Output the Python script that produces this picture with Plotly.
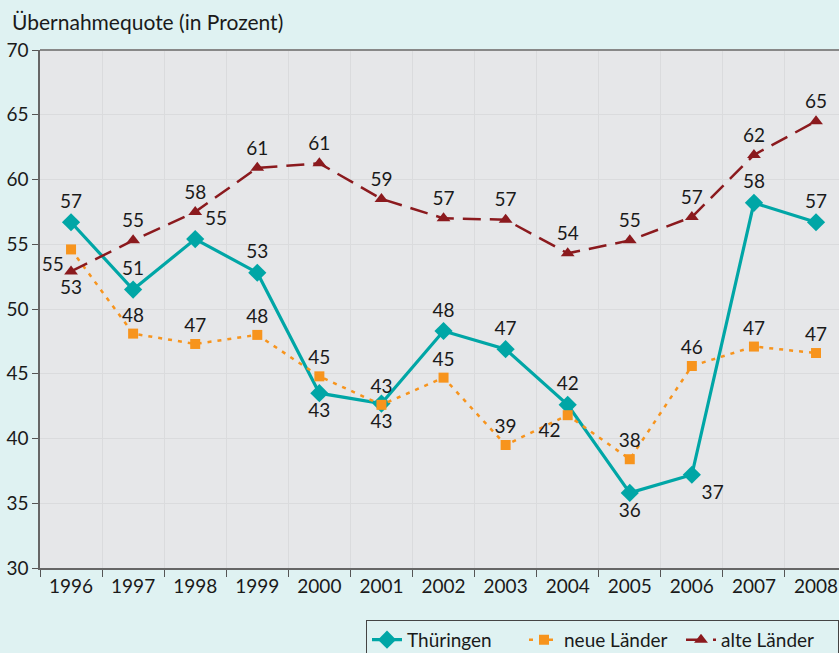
import plotly.graph_objects as go

years = ["1996", "1997", "1998", "1999", "2000", "2001", "2002",
         "2003", "2004", "2005", "2006", "2007", "2008"]

thueringen = [56.7, 51.5, 55.4, 52.8, 43.5, 42.7, 48.3, 46.9, 42.6, 35.8, 37.2, 58.2, 56.7]
thueringen_labels = ["57", "51", "55", "53", "43", "43", "48", "47", "42", "36", "37", "58", "57"]
thueringen_pos = ["top center", "top center", "top right", "top center", "bottom center",
                  "bottom center", "top center", "top center", "top center", "bottom center",
                  "bottom right", "top center", "top center"]

neue = [54.6, 48.1, 47.3, 48.0, 44.8, 42.6, 44.7, 39.5, 41.8, 38.4, 45.6, 47.1, 46.6]
neue_labels = ["55", "48", "47", "48", "45", "43", "45", "39", "42", "38", "46", "47", "47"]
neue_pos = ["bottom left", "top center", "top center", "top center", "top center",
            "top center", "top center", "top center", "bottom left", "top center",
            "top center", "top center", "top center"]

alte = [52.9, 55.3, 57.5, 60.9, 61.25, 58.5, 57.0, 56.9, 54.3, 55.3, 57.1, 61.9, 64.5]
alte_labels = ["53", "55", "58", "61", "61", "59", "57", "57", "54", "55", "57", "62", "65"]
alte_pos = ["bottom center"] + ["top center"] * 12

y_ticks = [30, 35, 40, 45, 50, 55, 60, 65, 70]

FONT = "Lato, 'Noto Sans', sans-serif"
TEXT_COL = "#1a1a1a"
LBL = 19

fig = go.Figure()

fig.add_trace(go.Scatter(
    x=years, y=thueringen, name="Thüringen", mode="lines+markers+text",
    line=dict(color="#00a6a6", width=3.2),
    marker=dict(symbol="diamond", size=14, color="#00a6a6"),
    text=thueringen_labels, textposition=thueringen_pos,
    textfont=dict(family=FONT, size=LBL, color=TEXT_COL),
))
fig.add_trace(go.Scatter(
    x=years, y=neue, name="neue Länder", mode="lines+markers+text",
    line=dict(color="#f7941d", width=2.5, dash="4px,6px"),
    marker=dict(symbol="square", size=10, color="#f7941d"),
    text=neue_labels, textposition=neue_pos,
    textfont=dict(family=FONT, size=LBL, color=TEXT_COL),
))
fig.add_trace(go.Scatter(
    x=years, y=alte, name="alte Länder", mode="lines+markers+text",
    line=dict(color="#8b1a1e", width=2.5, dash="18px,9px"),
    marker=dict(symbol="triangle-up", size=12, color="#8b1a1e"),
    text=alte_labels, textposition=alte_pos,
    textfont=dict(family=FONT, size=LBL, color=TEXT_COL),
))

fig.update_layout(
    width=839, height=653,
    margin=dict(l=40, r=0, t=50, b=85, autoexpand=False),
    paper_bgcolor="#dff2f2",
    plot_bgcolor="#e6e7e9",
    font=dict(family=FONT, size=LBL, color=TEXT_COL),
    showlegend=True,
    legend=dict(
        orientation="h", x=1.0, xanchor="right", y=-0.1, yanchor="top",
        bgcolor="#dff2f2", bordercolor="#444444", borderwidth=1,
        font=dict(family=FONT, size=19, color=TEXT_COL),
        tracegroupgap=0, entrywidth=112, entrywidthmode="pixels",
    ),
    annotations=[dict(
        text="Übernahmequote (in Prozent)", xref="paper", yref="paper",
        x=-0.0375, y=1.055, xanchor="left", yanchor="middle", showarrow=False,
        font=dict(family=FONT, size=21, color=TEXT_COL),
    )],
)

fig.update_xaxes(
    type="category", range=[-0.5, 12.37], tickson="boundaries",
    ticks="outside", ticklen=7, tickcolor="#555555",
    showgrid=True, gridcolor="#dadbdd", gridwidth=1,
    showline=True, linecolor="#666666", linewidth=1.5,
    tickfont=dict(family=FONT, size=19, color=TEXT_COL),
    mirror=False, fixedrange=True,
)
fig.update_yaxes(
    range=[30, 70], tickvals=y_ticks,
    ticks="outside", ticklen=6, tickcolor="#555555",
    showgrid=True, gridcolor="#dadbdd", gridwidth=1,
    showline=True, linecolor="#666666", linewidth=1.5,
    tickfont=dict(family=FONT, size=19, color=TEXT_COL),
    zeroline=False,
)
# top border line
fig.add_shape(type="line", xref="paper", yref="paper", x0=0, x1=1, y0=1, y1=1,
              line=dict(color="#888888", width=2))

fig.write_html("out.html", config={"displayModeBar": False},
               post_script="document.body.style.margin='0';document.body.style.padding='0';")
